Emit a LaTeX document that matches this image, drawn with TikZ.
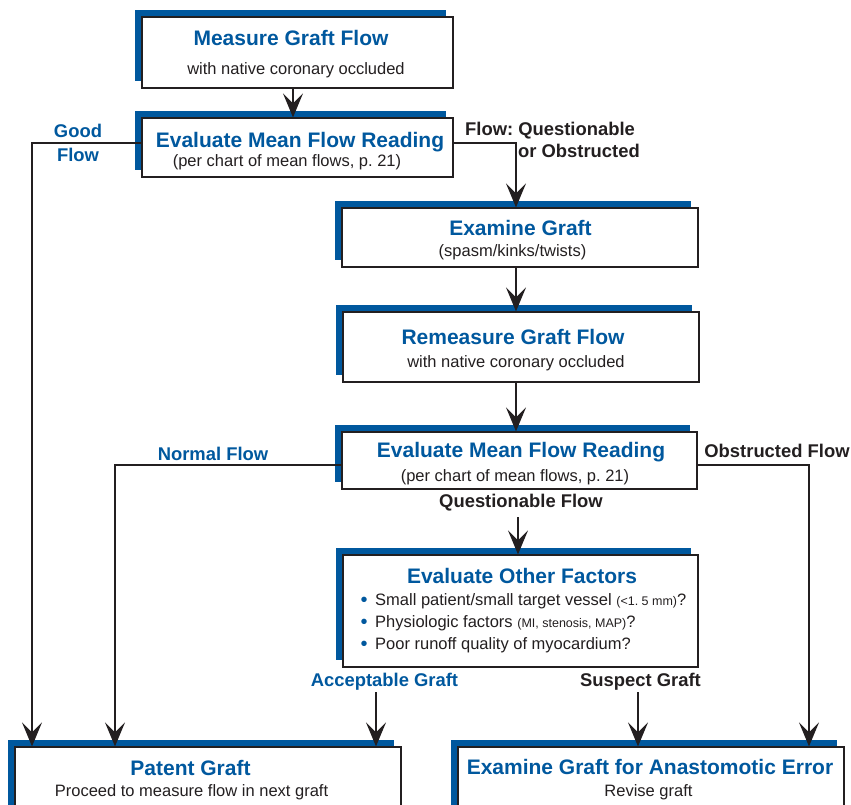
\documentclass[tikz,border=0pt]{standalone}
\usepackage{fontspec}
\setmainfont{Liberation Sans}
\usetikzlibrary{arrows.meta,shadows}
\definecolor{gblue}{RGB}{0,88,158}
\definecolor{ink}{RGB}{35,31,32}
\frenchspacing
\begin{document}
\frenchspacing
\begin{tikzpicture}[x=1pt,y=-1pt,
  box/.style={draw=ink, line width=1.2pt, fill=white, inner sep=0pt,
    general shadow={fill=gblue, shadow xshift=-7pt, shadow yshift=7pt}},
  ttl/.style={text=gblue, font=\fontsize{21}{25}\selectfont\bfseries, anchor=base, inner sep=0pt},
  sub/.style={text=ink, font=\fontsize{16.5}{20}\selectfont, anchor=base, inner sep=0pt},
  lbl/.style={text=ink, font=\fontsize{18.4}{22}\selectfont\bfseries, anchor=base, inner sep=0pt},
  lblb/.style={text=gblue, font=\fontsize{18.4}{22}\selectfont\bfseries, anchor=base, inner sep=0pt, align=center},
  bul/.style={text=gblue, font=\fontsize{20}{24}\selectfont, anchor=base, inner sep=0pt},
  item/.style={text=ink, font=\fontsize{16.5}{20}\selectfont, anchor=base west, inner sep=0pt},
  arr/.style={draw=ink, line width=1.3pt, -{Stealth[length=24pt,width=20pt,inset=10pt]}}
]
\useasboundingbox (0,0) rectangle (851,804);
\clip (0,0) rectangle (851,804);

% boxes
\node[box, minimum width=311pt, minimum height=71pt] (b1) at (297.5,52.5) {};
\node[box, minimum width=311pt, minimum height=59pt] (b2) at (297.5,147.5) {};
\node[box, minimum width=356pt, minimum height=59pt] (b3) at (520,237.5) {};
\node[box, minimum width=356pt, minimum height=70pt] (b4) at (521,347) {};
\node[box, minimum width=355pt, minimum height=57pt] (b5) at (519.5,460.5) {};
\node[box, minimum width=355pt, minimum height=112pt] (b6) at (520.5,611) {};
\node[box, minimum width=386pt, minimum height=90pt] (b7) at (208,792) {};
\node[box, minimum width=386pt, minimum height=90pt] (b8) at (651,792) {};

% box texts
\node[ttl] (t1) at (291,45) {Measure Graft Flow};
\node[sub] (s1) at (296,74) {with native coronary occluded};
\node[ttl] (t2) at (300,147) {Evaluate Mean Flow Reading};
\node[sub] (s2) at (287,166) {(per chart of mean flows, p. 21)};
\node[ttl] (t3) at (520.5,235) {Examine Graft};
\node[sub] (s3) at (512.5,256) {(spasm/kinks/twists)};
\node[ttl] (t4) at (513,344) {Remeasure Graft Flow};
\node[sub] (s4) at (516,367) {with native coronary occluded};
\node[ttl] (t5) at (521,457) {Evaluate Mean Flow Reading};
\node[sub] (s5) at (515,481) {(per chart of mean flows, p. 21)};
\node[ttl] (t6) at (522,583) {Evaluate Other Factors};
\node[bul] (u1) at (364,606) {•};
\node[bul] (u2) at (364,628) {•};
\node[bul] (u3) at (364,650) {•};
\node[item] (i1) at (375,605) {Small patient/small target vessel {\fontsize{12.5}{15}\selectfont(<1. 5 mm)}?};
\node[item] (i2) at (375,627) {Physiologic factors {\fontsize{12.5}{15}\selectfont(MI, stenosis, MAP)}?};
\node[item] (i3) at (375,649) {Poor runoff quality of myocardium?};
\node[ttl] (t7) at (190.5,775) {Patent Graft};
\node[sub] (s7) at (191.5,796) {Proceed to measure flow in next graft};
\node[ttl] (t8) at (650,774) {Examine Graft for Anastomotic Error};
\node[sub] (s8) at (648.5,796) {Revise graft};

% labels
\node[lblb] (lg1) at (78,137) {Good};
\node[lblb] (lg2) at (78,161) {Flow};
\node[lbl] (lq1) at (550,135) {Flow: Questionable};
\node[lbl] (lq2) at (579,157) {or Obstructed};
\node[lblb] (ln) at (213,460) {Normal Flow};
\node[lbl] (lo) at (777,457) {Obstructed Flow};
\node[lbl] (lqf) at (521,507) {Questionable Flow};
\node[lblb] (lag) at (384.5,686) {Acceptable Graft};
\node[lbl] (lsg) at (640.5,686) {Suspect Graft};

% connectors
\coordinate (x12) at (293,0);
\draw[arr] (b1.south -| x12) -- (b2.north -| x12);
\coordinate (gf) at (32,143);
\draw[arr] (b2.west |- gf) -- (gf) -- (gf |- b7.north);
\coordinate (qo) at (516,143);
\draw[arr] (b2.east |- qo) -- (qo) -- (qo |- b3.north);
\coordinate (x34) at (516,0);
\draw[arr] (b3.south -| x34) -- (b4.north -| x34);
\draw[arr] (b4.south -| x34) -- (b5.north -| x34);
\coordinate (nf) at (115,465);
\draw[arr] (b5.west |- nf) -- (nf) -- (nf |- b7.north);
\coordinate (of) at (809,465);
\draw[arr] (b5.east |- of) -- (of) -- (of |- b8.north);
\coordinate (x56) at (518,517);
\draw[arr] (x56) -- (x56 |- b6.north);
\coordinate (xag) at (376,692);
\draw[arr] (xag) -- (xag |- b7.north);
\coordinate (xsg) at (638,692);
\draw[arr] (xsg) -- (xsg |- b8.north);
\end{tikzpicture}
\end{document}
